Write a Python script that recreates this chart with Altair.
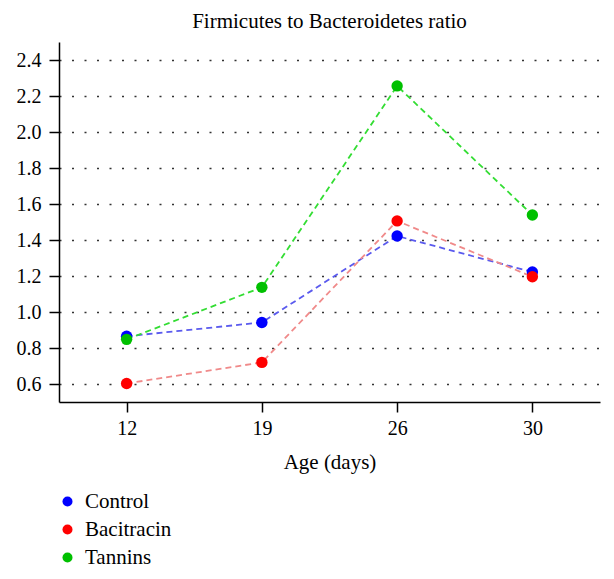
import altair as alt
import pandas as pd

ages = [12, 19, 26, 30]
groups = ["Control", "Bacitracin", "Tannins"]
control = [0.865, 0.942, 1.422, 1.222]
bacitracin = [0.603, 0.720, 1.506, 1.196]
tannins = [0.848, 1.137, 2.256, 1.539]
point_colors = ["#0000ff", "#ff0000", "#00c000"]
line_colors = ["#5a5aee", "#f08a8a", "#33dd33"]
y_ticks = [0.6, 0.8, 1.0, 1.2, 1.4, 1.6, 1.8, 2.0, 2.2, 2.4]

rows = []
for i, (g, vals) in enumerate(zip(groups, [control, bacitracin, tannins])):
    for a, v in zip(ages, vals):
        rows.append({"age": a, "group": g, "ratio": v, "order": i})
df = pd.DataFrame(rows)

FONT = "Liberation Serif"

x = alt.X("age:O", sort=ages, scale=alt.Scale(type="point", padding=0.5),
          axis=alt.Axis(title="Age (days)", labelAngle=0, labelFontSize=20,
                        titleFontSize=21, labelPadding=6, titlePadding=13,
                        tickSize=10, domainWidth=1.5, tickWidth=1.5))
y = alt.Y("ratio:Q", scale=alt.Scale(domain=[0.5, 2.5], nice=False, zero=False),
          axis=alt.Axis(title=None, values=y_ticks, format=".1f", labelFontSize=20,
                        labelPadding=8, tickSize=10, domainWidth=1.5, tickWidth=1.5,
                        grid=True, gridDash=[2, 10.5], gridColor="#333333",
                        gridWidth=1.5))

base = alt.Chart(df)

lines = base.mark_line(strokeDash=[6, 4], strokeWidth=1.8).encode(
    x=x, y=y,
    color=alt.Color("group:N", sort=groups,
                    scale=alt.Scale(domain=groups, range=line_colors), legend=None),
)

points = base.mark_circle(size=130, opacity=1).encode(
    x=x, y=y,
    color=alt.Color("group:N", sort=groups,
                    scale=alt.Scale(domain=groups, range=point_colors),
                    legend=alt.Legend(title=None, orient="none", legendX=-2, legendY=449,
                                      symbolType="circle", symbolSize=100,
                                      symbolStrokeWidth=0, labelFontSize=21,
                                      labelOffset=7, rowPadding=6, padding=0,
                                      labelColor="black", labelFont=FONT,
                                      labelFontWeight="normal")),
    order=alt.Order("order:Q"),
)

chart = alt.layer(lines, points).resolve_scale(color="independent").properties(
    width=541, height=360,
    title=alt.TitleParams("Firmicutes to Bacteroidetes ratio", fontSize=21,
                          fontWeight="normal", font=FONT, anchor="middle",
                          frame="group", offset=10, color="black"),
    autosize=alt.AutoSizeParams(type="none"),
    padding={"left": 51, "top": 34, "right": 6, "bottom": 170},
).configure(
    font=FONT,
    style={"guide-label": {"font": FONT}, "guide-title": {"font": FONT}},
).configure_view(stroke=None).configure_axis(
    labelFont=FONT, titleFont=FONT, labelColor="black", titleColor="black",
    domainColor="black", tickColor="black", titleFontWeight="normal"
).configure_legend(labelFont=FONT, titleFont=FONT)

chart.save("out.html", embed_options={"renderer": "svg", "actions": False})
